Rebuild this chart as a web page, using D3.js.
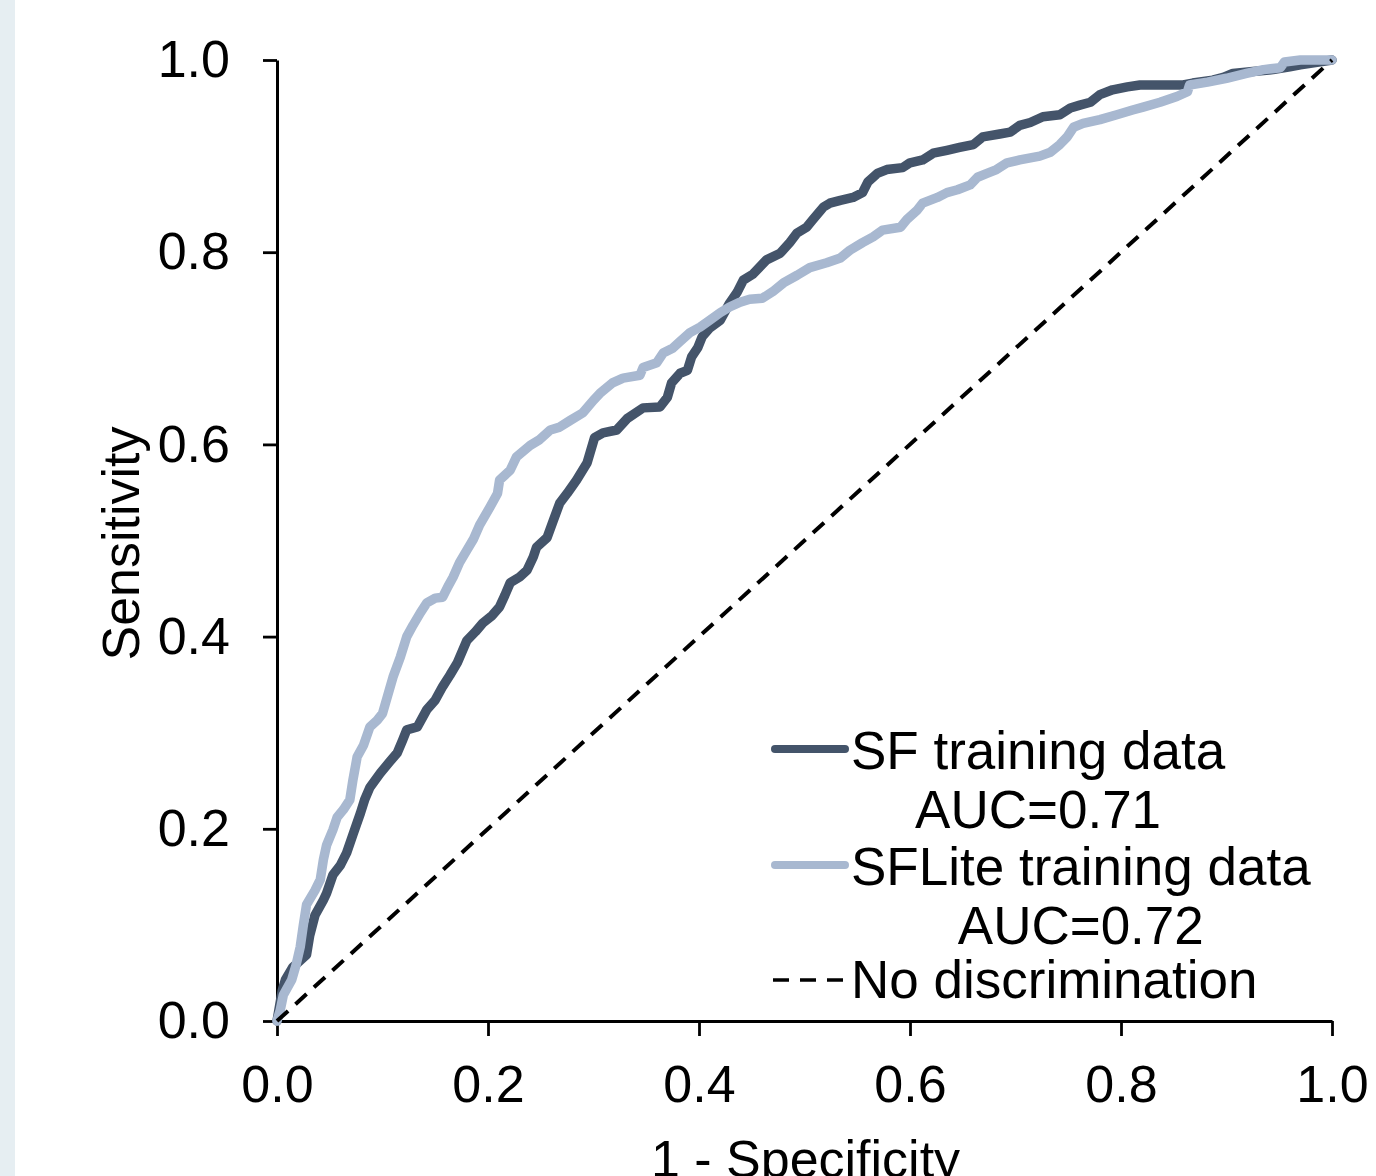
<!DOCTYPE html>
<html>
<head>
<meta charset="utf-8">
<script src="https://cdn.jsdelivr.net/npm/d3@7"></script>
<style>
  html, body { margin: 0; padding: 0; background: #ffffff; }
  svg { display: block; }
  text { font-family: "Liberation Sans", Arial, sans-serif; fill: #000; }
</style>
</head>
<body>
<svg id="chart" width="1376" height="1176"></svg>
<script>
// ---- Data ----
const xTicks = [0, 0.2, 0.4, 0.6, 0.8, 1.0];
const yTicks = [0, 0.2, 0.4, 0.6, 0.8, 1.0];
const xTitle = "1 - Specificity";
const yTitle = "Sensitivity";

// SF training data ROC (1-specificity, sensitivity)
const sfFpr = [0,0.005,0.008,0.015,0.022,0.028,0.031,0.036,0.044,0.047,0.053,0.060,0.066,0.072,0.079,0.083,0.088,0.098,0.107,0.114,0.119,0.123,0.133,0.142,0.150,0.157,0.164,0.171,0.180,0.188,0.195,0.204,0.211,0.216,0.221,0.230,0.237,0.243,0.246,0.256,0.261,0.268,0.275,0.284,0.294,0.301,0.309,0.322,0.332,0.347,0.363,0.370,0.374,0.382,0.389,0.393,0.399,0.403,0.410,0.420,0.429,0.436,0.442,0.451,0.464,0.477,0.486,0.493,0.502,0.508,0.518,0.524,0.534,0.546,0.555,0.560,0.569,0.578,0.593,0.600,0.612,0.622,0.635,0.647,0.660,0.669,0.685,0.695,0.704,0.714,0.726,0.742,0.752,0.761,0.771,0.780,0.792,0.806,0.818,0.859,0.868,0.887,0.897,0.906,0.925,0.944,0.960,0.970,0.989,1.000];
const sfTpr = [0,0.032,0.043,0.056,0.063,0.069,0.089,0.110,0.126,0.133,0.152,0.162,0.175,0.194,0.216,0.230,0.243,0.258,0.270,0.279,0.292,0.303,0.306,0.324,0.334,0.348,0.360,0.373,0.396,0.405,0.414,0.422,0.431,0.443,0.456,0.462,0.469,0.483,0.493,0.503,0.518,0.539,0.549,0.563,0.581,0.607,0.612,0.615,0.627,0.638,0.639,0.649,0.664,0.674,0.677,0.691,0.701,0.712,0.721,0.729,0.747,0.758,0.771,0.777,0.792,0.799,0.810,0.820,0.826,0.834,0.847,0.851,0.854,0.857,0.862,0.873,0.882,0.886,0.888,0.893,0.896,0.903,0.906,0.909,0.912,0.920,0.923,0.925,0.932,0.935,0.941,0.943,0.950,0.953,0.956,0.964,0.969,0.972,0.974,0.974,0.976,0.979,0.982,0.986,0.988,0.990,0.993,0.995,0.998,1.000];

// SFLite training data ROC
const liteFpr = [0,0.003,0.006,0.014,0.018,0.022,0.025,0.028,0.036,0.041,0.044,0.047,0.053,0.057,0.063,0.069,0.072,0.076,0.082,0.088,0.095,0.100,0.105,0.110,0.117,0.123,0.129,0.136,0.142,0.150,0.157,0.162,0.167,0.173,0.180,0.186,0.192,0.202,0.209,0.211,0.221,0.227,0.240,0.249,0.259,0.268,0.278,0.290,0.300,0.306,0.318,0.328,0.344,0.347,0.360,0.366,0.375,0.382,0.391,0.401,0.410,0.420,0.429,0.439,0.448,0.460,0.470,0.480,0.493,0.505,0.521,0.534,0.543,0.555,0.565,0.574,0.591,0.597,0.607,0.612,0.626,0.635,0.645,0.657,0.664,0.673,0.682,0.692,0.704,0.723,0.733,0.742,0.749,0.755,0.764,0.780,0.796,0.811,0.821,0.837,0.853,0.863,0.865,0.882,0.900,0.919,0.935,0.951,0.955,0.970,1.000];
const liteTpr = [0,0.011,0.027,0.043,0.058,0.077,0.100,0.121,0.136,0.147,0.168,0.183,0.199,0.212,0.220,0.230,0.251,0.275,0.287,0.306,0.313,0.320,0.339,0.358,0.379,0.400,0.412,0.425,0.435,0.440,0.441,0.452,0.462,0.477,0.490,0.501,0.516,0.535,0.549,0.563,0.573,0.587,0.599,0.605,0.615,0.618,0.625,0.633,0.646,0.653,0.664,0.669,0.672,0.680,0.685,0.695,0.700,0.707,0.716,0.722,0.729,0.737,0.743,0.748,0.751,0.752,0.759,0.768,0.776,0.784,0.789,0.794,0.802,0.810,0.816,0.823,0.826,0.834,0.844,0.851,0.857,0.862,0.865,0.870,0.878,0.882,0.886,0.893,0.896,0.900,0.904,0.912,0.920,0.930,0.934,0.938,0.943,0.948,0.951,0.956,0.962,0.967,0.974,0.977,0.981,0.986,0.990,0.992,0.998,1.000,1.000];

const refFpr = [0, 1];
const refTpr = [0, 1];

const seriesNames = ["SF training data", "SFLite training data", "No discrimination"];
const aucLabels = ["AUC=0.71", "AUC=0.72"];

// ---- Layout ----
const svg = d3.select("#chart");
const W = 1376, H = 1176;
const plot = { left: 277, right: 1332, top: 60, bottom: 1021 };
const colSF = "#44546a", colLite = "#a8b8d0";

svg.append("rect").attr("x", 0).attr("y", 0).attr("width", 15).attr("height", H).attr("fill", "#e6eef2");

const x = d3.scaleLinear().domain([0, 1]).range([plot.left, plot.right]);
const y = d3.scaleLinear().domain([0, 1]).range([plot.bottom, plot.top]);

const zip = (a, b) => a.map((v, i) => [v, b[i]]);
const line = d3.line().x(d => x(d[0])).y(d => y(d[1])).curve(d3.curveLinear);

// Axes
const xAxis = d3.axisBottom(x).tickValues(xTicks).tickFormat(d3.format(".1f")).tickSizeInner(15).tickSizeOuter(0).tickPadding(29);
const yAxis = d3.axisLeft(y).tickValues(yTicks).tickFormat(d3.format(".1f")).tickSizeInner(14).tickSizeOuter(0).tickPadding(33);

const gx = svg.append("g").attr("transform", `translate(0,${plot.bottom})`).call(xAxis);
const gy = svg.append("g").attr("transform", `translate(${plot.left},0)`).call(yAxis);
[gx, gy].forEach(g => {
  g.selectAll("path.domain").attr("stroke", "#000").attr("stroke-width", 3);
  g.selectAll(".tick line").attr("stroke", "#000").attr("stroke-width", 2.8);
  g.selectAll(".tick text").attr("font-size", 52).attr("font-family", '"Liberation Sans", Arial, sans-serif').attr("fill", "#000");
});

// Axis titles
svg.append("text").attr("x", (plot.left + plot.right) / 2 + 1).attr("y", 1177)
  .attr("text-anchor", "middle").attr("font-size", 52).text(xTitle);
svg.append("text").attr("transform", `translate(139,${(plot.top + plot.bottom) / 2 + 3}) rotate(-90)`)
  .attr("text-anchor", "middle").attr("font-size", 52).text(yTitle);

// Curves
svg.append("path").datum(zip(sfFpr, sfTpr)).attr("d", line)
  .attr("fill", "none").attr("stroke", colSF).attr("stroke-width", 9.5).attr("stroke-linejoin", "round").attr("stroke-linecap", "round");
svg.append("path").datum(zip(liteFpr, liteTpr)).attr("d", line)
  .attr("fill", "none").attr("stroke", colLite).attr("stroke-width", 9.5).attr("stroke-linejoin", "round").attr("stroke-linecap", "round");
svg.append("path").datum(zip(refFpr, refTpr)).attr("d", line)
  .attr("fill", "none").attr("stroke", "#000").attr("stroke-width", 4).attr("stroke-dasharray", "15,10");

// Legend
const lg = svg.append("g");
const lx0 = 775, lx1 = 845, tx = 851, lfs = 53;
function legendEntry(name, auc, baseline, color) {
  lg.append("line").attr("x1", lx0).attr("x2", lx1).attr("y1", baseline - 20).attr("y2", baseline - 20)
    .attr("stroke", color).attr("stroke-width", 8).attr("stroke-linecap", "round");
  const t = lg.append("text").attr("x", tx).attr("y", baseline).attr("font-size", lfs).text(name);
  const w = t.node().getComputedTextLength();
  lg.append("text").attr("x", tx + w / 2).attr("y", baseline + 59).attr("text-anchor", "middle").attr("font-size", lfs).text(auc);
}
legendEntry(seriesNames[0], aucLabels[0], 769, colSF);
legendEntry(seriesNames[1], aucLabels[1], 885, colLite);
lg.append("line").attr("x1", lx0 - 2).attr("x2", lx1).attr("y1", 980).attr("y2", 980)
  .attr("stroke", "#000").attr("stroke-width", 3.6).attr("stroke-dasharray", "16,11");
lg.append("text").attr("x", tx).attr("y", 998).attr("font-size", lfs).text(seriesNames[2]);
</script>
</body>
</html>
